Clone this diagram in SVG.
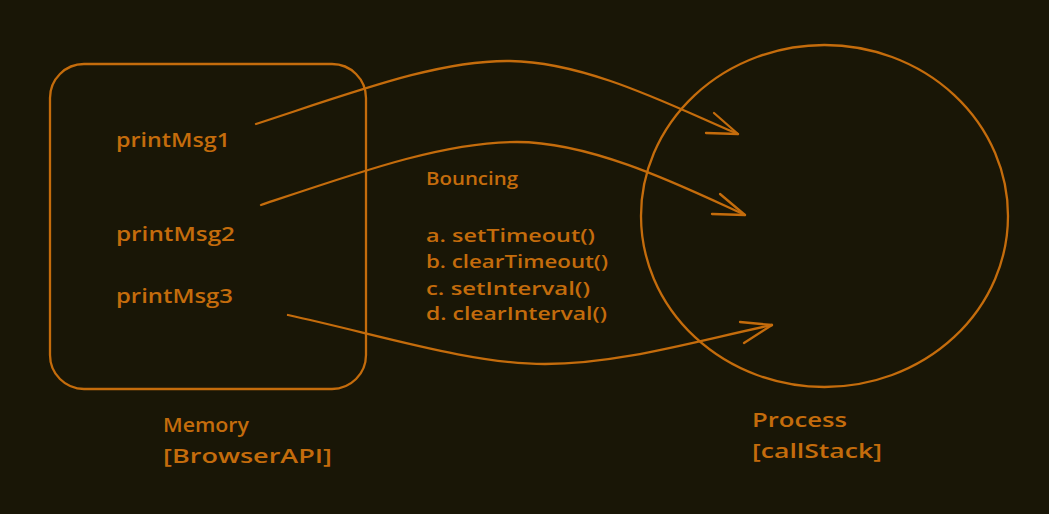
<svg xmlns="http://www.w3.org/2000/svg" width="1049" height="514" viewBox="0 0 1049 514">
<style>
.s{fill:none;stroke:#c46c0c;stroke-width:2.3;stroke-linecap:round;stroke-linejoin:round}
.t{fill:#c46c0c;font-family:"Open Sans","Liberation Sans",sans-serif;font-size:20px;font-weight:600}
.b{font-size:18px}
</style>
<rect width="1049" height="514" fill="#191606"/>
<g id="memory">
<rect class="s" x="50" y="64" width="316" height="325" rx="34"/>
<text class="t" x="116" y="147" textLength="114" lengthAdjust="spacingAndGlyphs">printMsg1</text>
<text class="t" x="116" y="241" textLength="119" lengthAdjust="spacingAndGlyphs">printMsg2</text>
<text class="t" x="116" y="303" textLength="117" lengthAdjust="spacingAndGlyphs">printMsg3</text>
</g>
<g id="memory-label">
<text class="t" x="163" y="432" textLength="86" lengthAdjust="spacingAndGlyphs">Memory</text>
<text class="t" x="163" y="463" textLength="169" lengthAdjust="spacingAndGlyphs">[BrowserAPI]</text>
</g>
<g id="process">
<ellipse class="s" cx="824.5" cy="216" rx="183.5" ry="171"/>
</g>
<g id="process-label">
<text class="t" x="752" y="427" textLength="95" lengthAdjust="spacingAndGlyphs">Process</text>
<text class="t" x="752" y="458" textLength="130" lengthAdjust="spacingAndGlyphs">[callStack]</text>
</g>
<g id="bouncing">
<text class="t b" x="426" y="185" textLength="92" lengthAdjust="spacingAndGlyphs">Bouncing</text>
<text class="t b" x="426" y="242" textLength="169" lengthAdjust="spacingAndGlyphs">a. setTimeout()</text>
<text class="t b" x="426" y="268" textLength="182" lengthAdjust="spacingAndGlyphs">b. clearTimeout()</text>
<text class="t b" x="426" y="295" textLength="164" lengthAdjust="spacingAndGlyphs">c. setInterval()</text>
<text class="t b" x="426" y="320" textLength="181" lengthAdjust="spacingAndGlyphs">d. clearInterval()</text>
</g>
<g id="connectors">
<path class="s" d="M256 124 C360 90 440 60 510 61 C590 62 680 110 738 134"/>
<path class="s" d="M714 113 L738 134 L706 133"/>
<path class="s" d="M261 205 C365 170 445 142 517 142 C595 142 690 190 745 215"/>
<path class="s" d="M720 194 L745 215 L712 214"/>
<path class="s" d="M288 315 C380 335 470 364 545 364 C620 364 700 340 772 325"/>
<path class="s" d="M740 322 L772 325 L744 343"/>
</g>
</svg>
